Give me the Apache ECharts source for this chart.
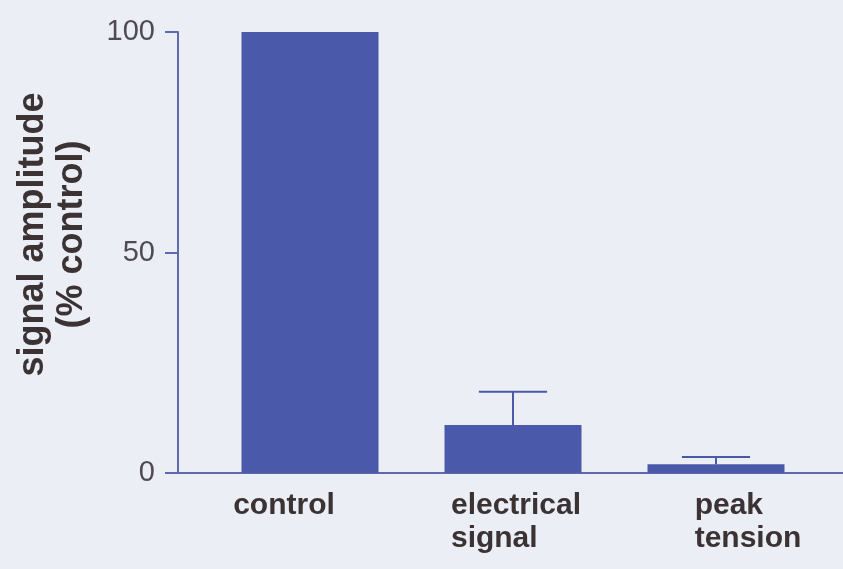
<!DOCTYPE html>
<html>
<head>
<meta charset="utf-8">
<script src="https://cdn.jsdelivr.net/npm/echarts@6/dist/echarts.min.js"></script>
<style>
html,body{margin:0;padding:0;background:#eceef5;}
#chart{width:843px;height:569px;}
</style>
</head>
<body>
<div id="chart"></div>
<script>
// ---- data ----
var categories = ['control', 'electrical\nsignal', 'peak\ntension'];
var values = [100, 10.9, 2.0];
var errorsUp = [0, 7.5, 1.6];
var yTicks = [0, 50, 100];
var yName = 'signal amplitude\n(% control)';

// ---- style ----
var BAR = '#4b59aa';
var AXIS = '#5f69ad';
var FONT = 'Arial, "Liberation Sans", sans-serif';
var labelPad = [[0, 52, 0, 0], [0, 0, 0, 6], [0, 0, 0, 64]];

var chart = echarts.init(document.getElementById('chart'));

var xData = categories.map(function (c, i) {
  return {
    value: c,
    textStyle: { padding: labelPad[i] }
  };
});

chart.setOption({
  backgroundColor: '#eceef5',
  animation: false,
  grid: [
    { left: 208.5, right: 25.5, top: 32, bottom: 96, containLabel: false, outerBoundsMode: 'none' },
    { left: 178, right: 0, top: 32, bottom: 96, containLabel: false, outerBoundsMode: 'none' }
  ],
  xAxis: [
    {
      type: 'category',
      gridIndex: 0,
      data: xData,
      axisLine: { show: false },
      axisTick: { show: false },
      axisLabel: {
        interval: 0,
        hideOverlap: false,
        margin: 16,
        fontFamily: FONT,
        fontSize: 30,
        fontWeight: 'bold',
        color: '#3b3234',
        lineHeight: 33,
        formatter: function (v) {
          return v.split('\n').map(function (s) { return '{l|' + s + '}'; }).join('\n');
        },
        rich: {
          l: { align: 'left', fontFamily: FONT, fontSize: 30, fontWeight: 'bold', color: '#3b3234', lineHeight: 33 }
        }
      }
    },
    {
      type: 'value',
      gridIndex: 1,
      min: 0, max: 1,
      axisLine: { show: true, lineStyle: { color: AXIS, width: 2 } },
      axisTick: { show: false },
      axisLabel: { show: false },
      splitLine: { show: false }
    }
  ],
  yAxis: [
    {
      type: 'value',
      gridIndex: 0,
      min: yTicks[0],
      max: yTicks[yTicks.length - 1],
      interval: yTicks[1] - yTicks[0],
      offset: 30.5,
      axisLine: { show: true, lineStyle: { color: AXIS, width: 2 } },
      axisTick: { show: true, length: 13, lineStyle: { color: AXIS, width: 2 } },
      splitLine: { show: false },
      axisLabel: {
        margin: 23,
        fontFamily: FONT,
        fontSize: 29,
        color: '#4f4b52'
      },
      name: yName,
      nameLocation: 'middle',
      nameGap: 86,
      nameTextStyle: {
        fontFamily: FONT,
        fontSize: 36,
        fontWeight: 'bold',
        color: '#3b3234',
        lineHeight: 39,
        padding: [0, 0, 0, 36]
      }
    },
    {
      type: 'value',
      gridIndex: 1,
      show: false,
      min: 0, max: 1
    }
  ],
  series: [
    {
      type: 'bar',
      xAxisIndex: 0,
      yAxisIndex: 0,
      data: values,
      barWidth: 137,
      itemStyle: { color: BAR },
      z: 2
    },
    {
      type: 'custom',
      xAxisIndex: 0,
      yAxisIndex: 0,
      z: 3,
      data: values.map(function (v, i) { return [i, v, v + errorsUp[i]]; }),
      renderItem: function (params, api) {
        var i = api.value(0);
        if (api.value(2) <= api.value(1)) return null;
        var base = api.coord([i, api.value(1)]);
        var top = api.coord([i, api.value(2)]);
        var half = api.size([1, 0])[0] * 0.168;
        var st = { stroke: BAR, lineWidth: 2, fill: null };
        return {
          type: 'group',
          children: [
            { type: 'line', shape: { x1: base[0], y1: base[1], x2: top[0], y2: top[1] }, style: st },
            { type: 'line', shape: { x1: top[0] - half, y1: top[1], x2: top[0] + half, y2: top[1] }, style: st }
          ]
        };
      }
    }
  ]
});
</script>
</body>
</html>
